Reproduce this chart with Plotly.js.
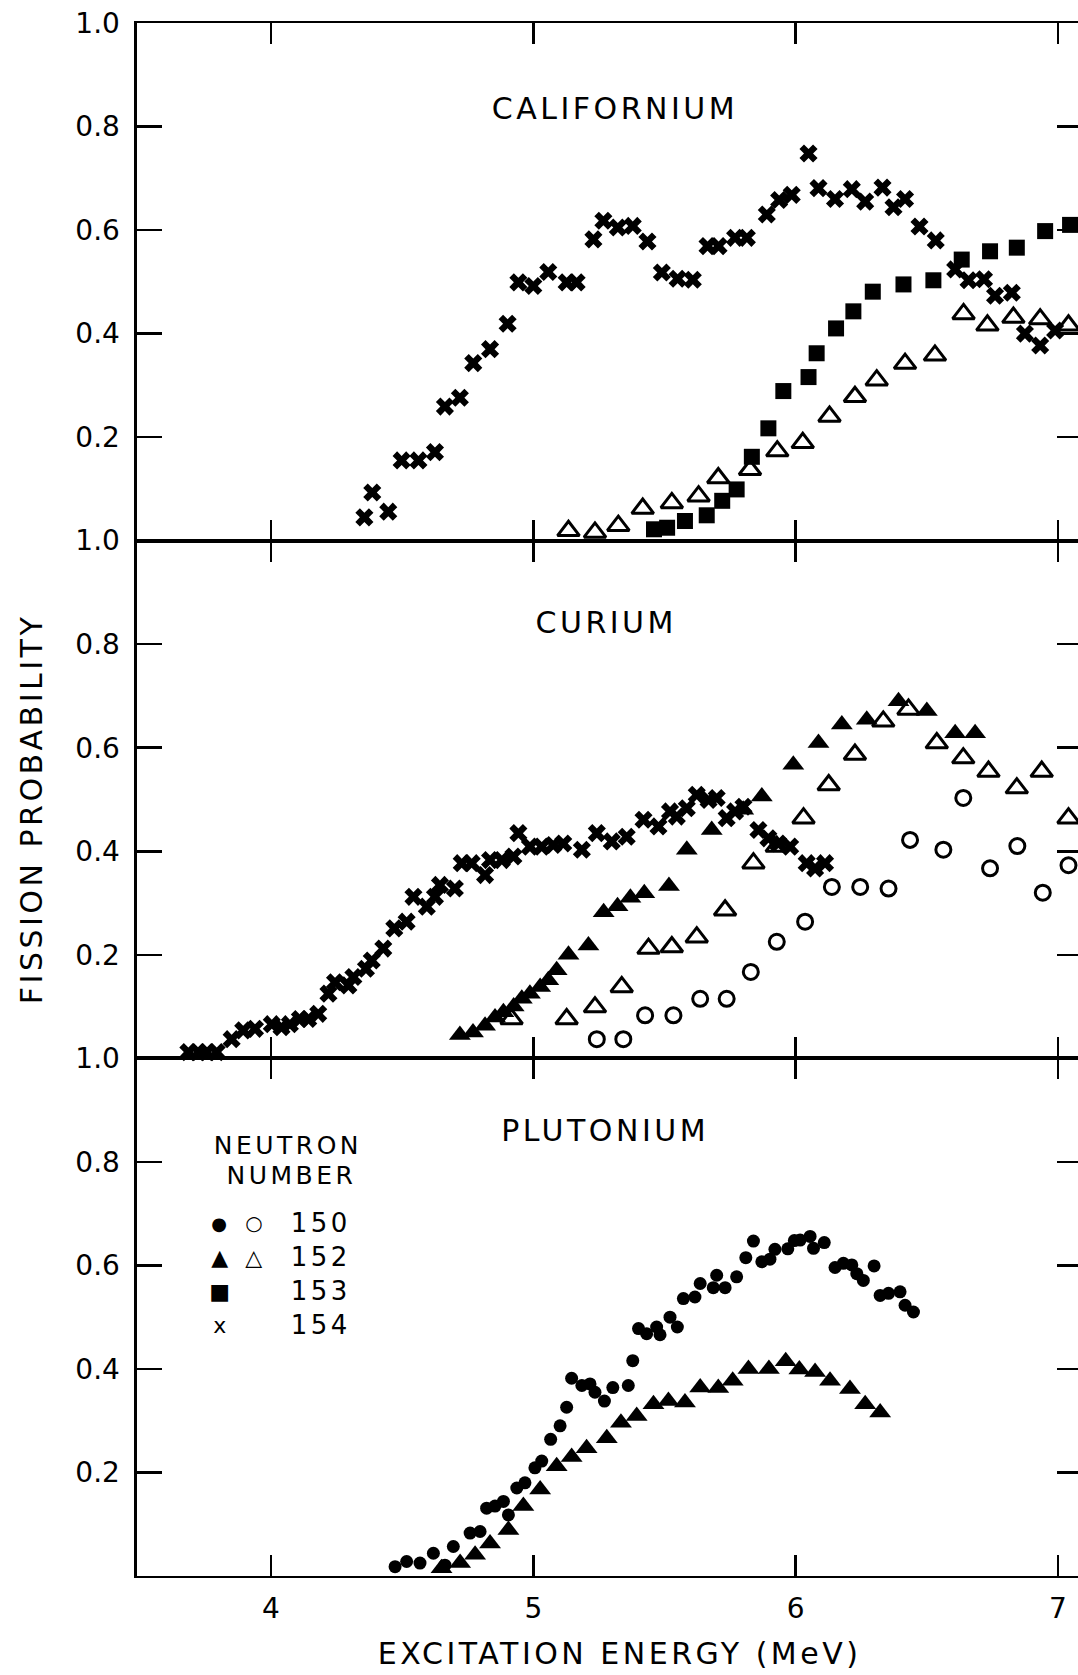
<!DOCTYPE html>
<html>
<head>
<meta charset="utf-8">
<script src="https://cdn.plot.ly/plotly-3.0.1.min.js"></script>
<style>
html,body{margin:0;padding:0;overflow:hidden;background:#fff;}
#chart{width:1082px;height:1675px;}
#chart .annotation-text{letter-spacing:3.5px;}
</style>
</head>
<body>
<div id="chart"></div>
<script>
// ---------------- DATA ----------------
// Californium
var cfE154 = [4.356,4.386,4.447,4.498,4.562,4.625,4.663,4.72,4.771,4.835,4.902,4.943,5.0,5.057,5.127,5.165,5.229,5.267,5.322,5.379,5.435,5.49,5.55,5.608,5.664,5.706,5.769,5.814,5.89,5.937,5.985,6.049,6.087,6.15,6.214,6.265,6.331,6.373,6.417,6.472,6.534,6.608,6.659,6.718,6.76,6.824,6.874,6.932,6.989];
var cfP154 = [0.045,0.093,0.056,0.155,0.155,0.171,0.259,0.276,0.343,0.370,0.419,0.499,0.492,0.519,0.499,0.499,0.582,0.618,0.605,0.608,0.578,0.518,0.506,0.504,0.569,0.569,0.585,0.585,0.630,0.658,0.668,0.748,0.681,0.660,0.679,0.655,0.682,0.644,0.660,0.607,0.580,0.524,0.503,0.505,0.473,0.479,0.400,0.377,0.406];
var cfE153 = [5.46,5.51,5.578,5.661,5.72,5.775,5.833,5.896,5.953,6.049,6.08,6.154,6.22,6.294,6.411,6.525,6.633,6.741,6.843,6.951,7.046];
var cfP153 = [0.022,0.025,0.038,0.049,0.077,0.099,0.162,0.217,0.289,0.316,0.362,0.410,0.443,0.481,0.495,0.503,0.543,0.559,0.566,0.598,0.610];
var cfE152 = [5.134,5.235,5.324,5.417,5.528,5.63,5.705,5.826,5.93,6.027,6.129,6.226,6.309,6.417,6.531,6.64,6.731,6.83,6.932,7.04];
var cfP152 = [0.019,0.016,0.029,0.062,0.073,0.086,0.121,0.137,0.173,0.189,0.240,0.278,0.310,0.342,0.358,0.438,0.416,0.431,0.428,0.416];

// Curium
var cmE154 = [3.685,3.723,3.755,3.793,3.85,3.894,3.939,4.003,4.04,4.072,4.11,4.142,4.18,4.219,4.244,4.295,4.314,4.362,4.384,4.428,4.47,4.517,4.543,4.594,4.625,4.644,4.701,4.727,4.765,4.816,4.835,4.88,4.924,4.943,4.987,5.032,5.076,5.114,5.185,5.242,5.299,5.356,5.42,5.477,5.521,5.547,5.585,5.623,5.668,5.699,5.737,5.769,5.801,5.858,5.896,5.934,5.979,6.042,6.074,6.112];
var cmP154 = [0.012,0.012,0.012,0.012,0.037,0.054,0.057,0.066,0.060,0.066,0.076,0.076,0.086,0.125,0.147,0.141,0.157,0.173,0.189,0.212,0.251,0.264,0.312,0.293,0.312,0.335,0.328,0.377,0.377,0.354,0.383,0.383,0.390,0.435,0.409,0.409,0.412,0.415,0.403,0.435,0.419,0.428,0.461,0.448,0.477,0.467,0.483,0.509,0.499,0.503,0.464,0.477,0.486,0.441,0.425,0.415,0.409,0.377,0.367,0.377];
var cmE152f = [4.72,4.77,4.816,4.854,4.886,4.925,4.956,4.987,5.026,5.057,5.089,5.134,5.21,5.268,5.321,5.37,5.423,5.517,5.585,5.68,5.80,5.871,5.991,6.087,6.176,6.271,6.392,6.5,6.608,6.684];
var cmP152f = [0.045,0.050,0.063,0.079,0.089,0.100,0.115,0.125,0.138,0.151,0.170,0.200,0.218,0.282,0.294,0.310,0.319,0.333,0.403,0.441,0.480,0.506,0.567,0.609,0.645,0.654,0.690,0.671,0.628,0.628];
var cmE152o = [4.917,5.127,5.235,5.337,5.439,5.528,5.623,5.731,5.839,5.928,6.03,6.126,6.226,6.334,6.43,6.538,6.639,6.735,6.843,6.938,7.04];
var cmP152o = [0.076,0.076,0.099,0.138,0.212,0.215,0.234,0.286,0.377,0.409,0.464,0.528,0.587,0.651,0.674,0.609,0.580,0.554,0.522,0.554,0.464];
var cmE150 = [5.242,5.343,5.426,5.534,5.636,5.737,5.829,5.928,6.036,6.138,6.246,6.354,6.436,6.563,6.639,6.741,6.845,6.942,7.04];
var cmP150 = [0.037,0.037,0.083,0.083,0.115,0.115,0.167,0.225,0.264,0.331,0.331,0.328,0.422,0.403,0.503,0.367,0.410,0.320,0.373];

// Plutonium
var puE150 = [4.473,4.517,4.568,4.619,4.663,4.695,4.759,4.797,4.822,4.854,4.886,4.905,4.937,4.968,5.006,5.032,5.066,5.102,5.127,5.146,5.185,5.216,5.235,5.271,5.303,5.362,5.379,5.401,5.432,5.47,5.483,5.521,5.549,5.572,5.616,5.636,5.686,5.699,5.731,5.775,5.81,5.839,5.871,5.902,5.921,5.97,5.995,6.017,6.055,6.068,6.109,6.15,6.182,6.214,6.233,6.258,6.299,6.322,6.354,6.398,6.417,6.449];
var puP150 = [0.018,0.028,0.025,0.044,0.021,0.057,0.083,0.086,0.131,0.135,0.144,0.118,0.170,0.180,0.209,0.222,0.264,0.290,0.326,0.382,0.368,0.371,0.355,0.338,0.364,0.368,0.416,0.478,0.468,0.481,0.466,0.500,0.481,0.536,0.539,0.565,0.557,0.581,0.557,0.578,0.615,0.647,0.607,0.612,0.631,0.632,0.648,0.649,0.656,0.633,0.644,0.596,0.604,0.601,0.584,0.571,0.599,0.542,0.546,0.549,0.523,0.510];
var puE152 = [4.65,4.721,4.778,4.835,4.905,4.962,5.026,5.089,5.146,5.203,5.28,5.334,5.394,5.458,5.515,5.578,5.636,5.705,5.76,5.82,5.898,5.962,6.014,6.074,6.131,6.207,6.265,6.322];
var puP152 = [0.015,0.025,0.041,0.063,0.089,0.135,0.167,0.212,0.230,0.247,0.266,0.296,0.309,0.332,0.338,0.335,0.364,0.363,0.377,0.400,0.400,0.415,0.399,0.394,0.377,0.361,0.332,0.316];

// Tick labels
var xTickVals = [4,5,6,7];
var xTickText = ['4','5','6','7'];
var yTickVals = [0.2,0.4,0.6,0.8,1.0];
var yTickText = ['0.2','0.4','0.6','0.8','1.0'];

// Panel names and legend entries
var panelNames = ['CALIFORNIUM','CURIUM','PLUTONIUM'];
var legendNumbers = ['150','152','153','154'];

// ---------------- STYLE ----------------
var FONT = 'DejaVu Sans, Liberation Sans, sans-serif';
var K = '#000';

var mX = {symbol:'x', size:16, color:K, line:{width:0}};
var mSq = {symbol:'square', size:16, color:K, line:{width:0}};
var mTriO = {symbol:'triangle-up-open', size:19, color:K, line:{width:3, color:K}};
var mTriF = {symbol:'triangle-up', size:19, color:K, line:{width:0}};
var mCirO = {symbol:'circle-open', size:15, color:K, line:{width:3, color:K}};
var mCirF = {symbol:'circle', size:13, color:K, line:{width:0}};

function tr(x, y, marker, ax) {
  return {x:x, y:y, type:'scatter', mode:'markers', marker:marker,
          xaxis:'x'+ax, yaxis:'y'+ax, cliponaxis:false, showlegend:false, hoverinfo:'skip'};
}

var data = [
  // top panel: axis 3
  tr(cfE154, cfP154, mX, '3'),
  tr(cfE153, cfP153, mSq, '3'),
  tr(cfE152, cfP152, mTriO, '3'),
  // middle panel: axis 2
  tr(cmE154, cmP154, mX, '2'),
  tr(cmE152f, cmP152f, mTriF, '2'),
  tr(cmE152o, cmP152o, mTriO, '2'),
  tr(cmE150, cmP150, mCirO, '2'),
  // bottom panel: axis 1
  tr(puE150, puP150, mCirF, ''),
  tr(puE152, puP152, mTriF, '')
];

var XR = [3.4892, 7.0915];

function xax(anchor, showLabels) {
  return {
    anchor: anchor, range: XR, showgrid:false, zeroline:false,
    showline:true, linewidth:2, linecolor:K, mirror:'ticks',
    ticks:'inside', ticklen:21, tickwidth:2.5, tickcolor:K,
    tickvals:xTickVals, ticktext:xTickText, showticklabels:showLabels,
    tickfont:{family:FONT, size:28, color:K}, ticklabelstandoff:6,
    fixedrange:true
  };
}
function yax(domain, anchor) {
  return {
    domain: domain, anchor: anchor, range:[0,1], showgrid:false, zeroline:false,
    showline:true, linewidth:3.5, linecolor:K, mirror:'ticks',
    ticks:'inside', ticklen:25, tickwidth:2.5, tickcolor:K,
    tickvals:yTickVals, ticktext:yTickText,
    tickfont:{family:FONT, size:28, color:K}, ticklabelstandoff:8,
    fixedrange:true
  };
}

var annFont = function(sz){ return {family:FONT, size:sz, color:K}; };
function ann(text, x, y, sz, xanchor, extra) {
  var a = {text:text, xref:'paper', yref:'paper', x:x, y:y, showarrow:false,
           font:annFont(sz), xanchor:xanchor||'center', yanchor:'middle'};
  if (extra) for (var k in extra) a[k] = extra[k];
  return a;
}

var annotations = [
  ann(panelNames[0], 0.506, 0.945, 30),
  ann(panelNames[1], 0.496, 0.614, 30),
  ann(panelNames[2], 0.495, 0.287, 30),
  ann('FISSION PROBABILITY', -0.111, 0.494, 30, 'center', {textangle:-90}),
  ann('EXCITATION ENERGY (MeV)', 0.511, -0.0502, 30),
  // legend block
  ann('NEUTRON', 0.160, 0.2775, 25),
  ann('NUMBER', 0.163, 0.2576, 25),
  ann('\u25CF', 0.0889, 0.2273, 18),
  ann('\u25CB', 0.1259, 0.2273, 20),
  ann('\u25B2', 0.0889, 0.2054, 22),
  ann('\u25B3', 0.1259, 0.2054, 22),
  ann('\u25A0', 0.0889, 0.1835, 22),
  ann('x', 0.0889, 0.1616, 22),
  ann(legendNumbers[0], 0.1661, 0.2273, 26, 'left'),
  ann(legendNumbers[1], 0.1661, 0.2054, 26, 'left'),
  ann(legendNumbers[2], 0.1661, 0.1835, 26, 'left'),
  ann(legendNumbers[3], 0.1661, 0.1616, 26, 'left')
];

var layout = {
  width:1082, height:1675,
  margin:{l:137, r:0, t:23, b:99, pad:0},
  paper_bgcolor:'#fff', plot_bgcolor:'#fff',
  font:{family:FONT, color:K},
  showlegend:false,
  xaxis: xax('y', true),
  xaxis2: xax('y2', false),
  xaxis3: xax('y3', false),
  yaxis: yax([0, 1/3], 'x'),
  yaxis2: yax([1/3, 2/3], 'x2'),
  yaxis3: yax([2/3, 1], 'x3'),
  annotations: annotations
};

Plotly.newPlot('chart', data, layout, {staticPlot:true, displayModeBar:false});
</script>
</body>
</html>
